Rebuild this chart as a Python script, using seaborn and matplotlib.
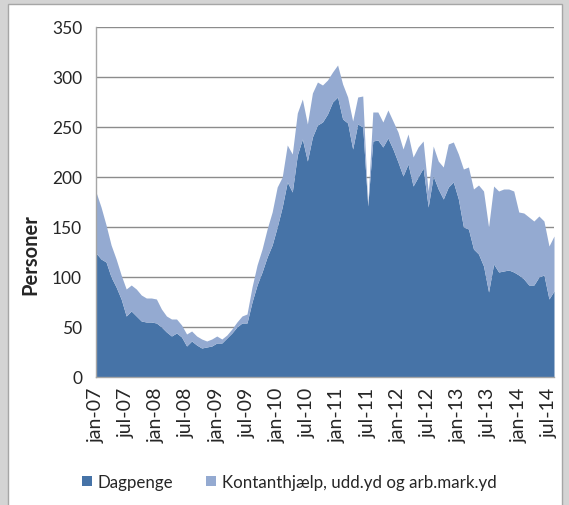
import numpy as np
import pandas as pd
import seaborn as sns
import matplotlib.pyplot as plt
from matplotlib.patches import Patch, Rectangle

# === Data (monthly, jan-07 .. aug-14) ===
months = pd.date_range("2007-01-01", periods=92, freq="MS")

dagpenge = [124, 118, 115, 100, 90, 78, 61, 66, 61, 56, 55, 55, 54, 50, 45, 41, 44, 40, 31, 36,
            32, 29, 30, 31, 34, 34, 39, 44, 50, 54, 54, 75, 92, 105, 120, 132, 150, 170, 195, 185,
            222, 238, 216, 240, 252, 255, 263, 275, 280, 258, 254, 228, 253, 250, 171, 236, 237, 230, 239, 228,
            215, 201, 213, 191, 200, 209, 170, 201, 188, 178, 190, 195, 178, 150, 148, 128, 123, 111, 85, 113,
            105, 106, 107, 105, 102, 98, 92, 92, 100, 102, 78, 86]

kontant = [61, 52, 37, 32, 28, 24, 27, 26, 27, 26, 24, 24, 24, 18, 16, 17, 14, 12, 12, 10,
           9, 9, 6, 7, 7, 4, 3, 4, 5, 7, 9, 15, 20, 23, 28, 33, 40, 30, 37, 38,
           42, 40, 37, 44, 43, 37, 34, 30, 32, 35, 26, 28, 27, 31, 2, 29, 28, 25, 28, 28,
           30, 27, 30, 29, 30, 27, 16, 30, 28, 32, 43, 40, 45, 58, 62, 60, 69, 75, 65, 78,
           81, 82, 81, 81, 63, 66, 68, 64, 61, 54, 53, 55]

tick_labels = ["jan-07", "jul-07", "jan-08", "jul-08", "jan-09", "jul-09", "jan-10", "jul-10",
               "jan-11", "jul-11", "jan-12", "jul-12", "jan-13", "jul-13", "jan-14", "jul-14"]

series_names = ["Dagpenge", "Kontanthjælp, udd.yd og arb.mark.yd"]
colors = ["#4673a7", "#94aad1"]

df = pd.DataFrame({"month": months, series_names[0]: dagpenge, series_names[1]: kontant})
df["idx"] = np.arange(len(df))

# === Style ===
sns.set_theme(style="white")
plt.rcParams["font.family"] = ["Lato", "DejaVu Sans"]

fig = plt.figure(figsize=(5.69, 5.06), dpi=100)
fig.patch.set_facecolor("#d4d4d4")
fig.patches.append(Rectangle((8 / 569, -0.01), (562 - 8) / 569, (506 - 5) / 506 + 0.01,
                             transform=fig.transFigure, facecolor="white",
                             edgecolor="#a6a6a6", linewidth=1, zorder=-5))

ax = fig.add_axes([96 / 569, 128 / 506, 458 / 569, 350 / 506])
ax.set_zorder(2)
ax.set_facecolor("none")

ax.stackplot(df["idx"], df[series_names[0]], df[series_names[1]],
             colors=colors, linewidth=0, zorder=2)

ax.set_xlim(0, len(df) - 1)
ax.set_ylim(0, 350)
ax.set_yticks(range(0, 351, 50))
ax.yaxis.grid(True, color="#8c8c8c", linewidth=1)
ax.set_axisbelow(True)
ax.set_xticks(df["idx"][::6])
ax.set_xticklabels(tick_labels, rotation=90, fontsize=14)
ax.tick_params(axis="y", labelsize=12.5, length=0, pad=10)
ax.tick_params(axis="x", length=0, pad=7)
for side in ["top", "right"]:
    ax.spines[side].set_visible(False)
for side in ["left", "bottom"]:
    ax.spines[side].set_color("#a6a6a6")
    ax.spines[side].set_linewidth(1)

ax.set_ylabel("Personer", fontsize=14.5, fontweight="bold")
ax.yaxis.set_label_coords((40 - 96) / 458, (378 - 255) / 350)

handles = [Patch(facecolor=c, edgecolor="none") for c in colors]
fig.legend(handles, series_names, loc="center", bbox_to_anchor=(289 / 569, 1 - 483 / 506),
           ncol=2, frameon=False, fontsize=12.2, handlelength=0.6, handleheight=0.6,
           handletextpad=0.35, columnspacing=1.9)

fig.savefig("out.png", dpi=100, facecolor=fig.get_facecolor())
